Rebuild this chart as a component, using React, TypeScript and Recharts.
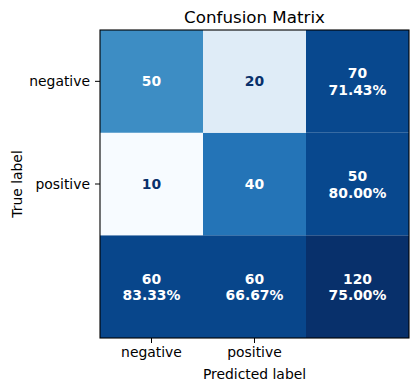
import React from "react";
import { BarChart, Bar, XAxis, YAxis, Cell, LabelList, Label } from "recharts";

const predictedLabels = ["negative", "positive", ""];
const tickPredictedLabels = ["negative", "positive"];
const trueLabels = ["negative", "positive", ""];
const tickTrueLabels = ["negative", "positive"];
const matrixCounts = [
  [50, 20, 70],
  [10, 40, 50],
  [60, 60, 120],
];
const matrixPercents: (string | null)[][] = [
  [null, null, "71.43%"],
  [null, null, "80.00%"],
  ["83.33%", "66.67%", "75.00%"],
];
const cellColors = [
  ["#3d8dc4", "#dfecf7", "#08488e"],
  ["#f7fbff", "#2474b7", "#08488e"],
  ["#08468b", "#08468b", "#08306b"],
];
const textColors = [
  ["#ffffff", "#08306b", "#ffffff"],
  ["#08306b", "#ffffff", "#ffffff"],
  ["#ffffff", "#ffffff", "#ffffff"],
];

const FONT = "DejaVu Sans";

// One row per predicted column; each true-label row contributes one unit of stack height.
const data = predictedLabels.map((p) => {
  const row: Record<string, string | number> = { name: p };
  trueLabels.forEach((_, r) => {
    row["r" + r] = 1;
  });
  return row;
});

const makeLabel = (r: number) => (props: any) => {
  const { x, y, width, height, index } = props;
  const cx = Number(x) + Number(width) / 2;
  const cy = Number(y) + Number(height) / 2;
  const count = matrixCounts[r][index];
  const pct = matrixPercents[r][index];
  const fill = textColors[r][index];
  const common = {
    x: cx,
    textAnchor: "middle" as const,
    fill,
    fontFamily: FONT,
    fontWeight: "bold" as const,
    fontSize: 13.9,
  };
  if (pct) {
    return (
      <g>
        <text {...common} y={cy - 8} dominantBaseline="central">{count}</text>
        <text {...common} y={cy + 8.5} dominantBaseline="central">{pct}</text>
      </g>
    );
  }
  return (
    <text {...common} y={cy} dominantBaseline="central">{count}</text>
  );
};

// stack bottom-to-top: last true-label row first
const stackOrder = trueLabels.map((_, i) => trueLabels.length - 1 - i);

const W = 410;
const H = 383;
const MARGIN_TOP = 22;
const MARGIN_RIGHT = 9;
const Y_AXIS_W = 92;
const X_AXIS_H = 53;
const PLOT_W = W - Y_AXIS_W - MARGIN_RIGHT;
const PLOT_H = H - MARGIN_TOP - X_AXIS_H;

export default function App() {
  return (
    <div style={{ position: "relative", width: W, height: H, fontFamily: FONT }}>
      <div
        style={{
          position: "absolute",
          left: Y_AXIS_W,
          width: PLOT_W,
          top: 1,
          textAlign: "center",
          fontSize: 16.7,
          lineHeight: 1,
          color: "#000",
          fontFamily: FONT,
        }}
      >
        Confusion Matrix
      </div>
      <BarChart
        width={W}
        height={H}
        data={data}
        margin={{ top: MARGIN_TOP, right: MARGIN_RIGHT, left: 0, bottom: 0 }}
        barCategoryGap={0}
        barGap={0}
      >
        <XAxis
          dataKey="name"
          height={X_AXIS_H}
          tickSize={5}
          tickMargin={4}
          ticks={tickPredictedLabels}
          axisLine={false}
          tickLine={{ stroke: "#000" }}
          tick={{ fill: "#000", fontSize: 13.9, fontFamily: FONT }}
          interval={0}
        >
          <Label
            value="Predicted label"
            position="insideBottom"
            offset={12}
            style={{ fill: "#000", fontSize: 13.9, fontFamily: FONT }}
          />
        </XAxis>
        <YAxis
          type="number"
          domain={[0, trueLabels.length]}
          ticks={tickTrueLabels.map((_, i) => trueLabels.length - 0.5 - i)}
          tickFormatter={(v: number) => tickTrueLabels[Math.round(trueLabels.length - 0.5 - v)] ?? ""}
          width={Y_AXIS_W}
          tickSize={5}
          tickMargin={5}
          axisLine={false}
          tickLine={{ stroke: "#000" }}
          tick={{ fill: "#000", fontSize: 13.9, fontFamily: FONT }}
        >
          <Label
            content={(props: any) => {
              const vb = props.viewBox || {};
              const cx = 13.5;
              const cy = Number(vb.y ?? MARGIN_TOP) + Number(vb.height ?? PLOT_H) / 2;
              return (
                <text
                  x={cx}
                  y={cy}
                  transform={`rotate(-90 ${cx} ${cy})`}
                  textAnchor="middle"
                  fill="#000"
                  fontSize={13.9}
                  fontFamily={FONT}
                >
                  True label
                </text>
              );
            }}
          />
        </YAxis>
        {stackOrder.map((r) => (
          <Bar key={r} dataKey={"r" + r} stackId="m" isAnimationActive={false}>
            {predictedLabels.map((_, c) => (
              <Cell key={c} fill={cellColors[r][c]} />
            ))}
            <LabelList dataKey={"r" + r} content={makeLabel(r)} />
          </Bar>
        ))}
      </BarChart>
      <svg
        width={W}
        height={H}
        style={{ position: "absolute", left: 0, top: 0, pointerEvents: "none" }}
      >
        <rect
          x={Y_AXIS_W}
          y={MARGIN_TOP}
          width={PLOT_W}
          height={PLOT_H}
          fill="none"
          stroke="#000"
          strokeWidth={1.1}
        />
      </svg>
    </div>
  );
}
